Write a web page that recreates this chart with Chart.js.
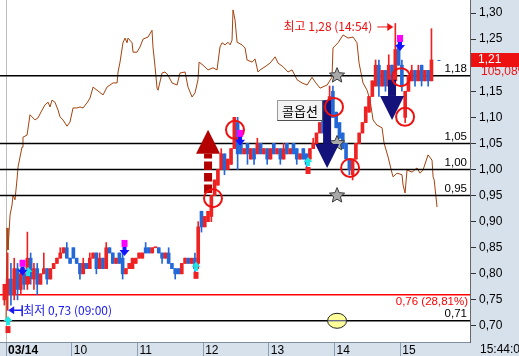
<!DOCTYPE html>
<html>
<head>
<meta charset="utf-8">
<script src="https://cdn.jsdelivr.net/npm/chart.js@4.4.1/dist/chart.umd.min.js"></script>
<style>
  html, body { margin: 0; padding: 0; background: #fff; }
  #wrap { width: 519px; height: 356px; }
</style>
</head>
<body>
<div id="wrap"><canvas id="chart" width="519" height="356"></canvas></div>
<script>
// 3분봉: 첫 봉은 03/13 마지막 봉, 이후 09:00부터
const firstCandleMinute = -3;
const barMinutes = 3;

const openP = [
  0.75,
  0.76,0.79,0.76,0.81,0.77,0.80,0.78,0.83,0.79,0.81,
  0.78,0.80,0.81,0.79,0.81,0.82,0.83,0.84,0.85,0.83,
  0.85,0.83,0.82,0.80,0.82,0.81,0.83,0.84,0.81,0.83,
  0.81,0.85,0.84,0.82,0.84,0.83,0.80,0.81,0.81,0.82,
  0.83,0.83,0.85,0.85,0.84,0.85,0.85,0.84,0.83,0.84,
  0.82,0.81,0.81,0.80,0.82,0.83,0.82,0.83,0.82,0.92,
  0.89,0.90,0.91,0.95,0.97,1.00,1.03,1.00,1.01,1.04,
  1.09,1.05,1.03,1.05,1.02,1.04,1.03,1.05,1.03,1.04,
  1.02,1.05,1.03,1.04,1.02,1.05,1.03,1.05,1.04,1.02,
  1.04,1.03,1.02,1.04,1.05,1.07,1.10,1.07,1.10,1.15,
  1.11,1.09,1.07,1.05,1.02,0.99,1.02,1.05,1.07,1.09,
  1.11,1.14,1.16,1.20,1.16,1.19,1.16,1.20,1.17,1.24,
  1.20,1.10,1.15,1.17,1.19,1.17,1.20,1.17,1.19,1.17
];
const closeP = [
  0.78,
  0.79,0.76,0.81,0.77,0.80,0.78,0.83,0.79,0.81,0.78,
  0.80,0.81,0.79,0.81,0.82,0.83,0.84,0.85,0.83,0.82,
  0.83,0.82,0.80,0.82,0.81,0.83,0.84,0.81,0.83,0.81,
  0.85,0.84,0.82,0.83,0.82,0.80,0.81,0.82,0.83,0.83,
  0.84,0.84,0.84,0.84,0.85,0.85,0.84,0.83,0.84,0.82,
  0.81,0.80,0.80,0.82,0.83,0.82,0.83,0.81,0.89,0.89,
  0.91,0.92,0.95,0.98,1.00,1.03,1.00,1.02,1.04,1.10,
  1.03,1.03,1.04,1.03,1.04,1.02,1.05,1.03,1.04,1.02,
  1.04,1.03,1.04,1.02,1.04,1.03,1.04,1.03,1.02,1.03,
  1.02,1.01,1.04,1.05,1.07,1.09,1.07,1.11,1.14,1.10,
  1.08,1.06,1.04,1.02,1.00,1.02,1.05,1.07,1.09,1.12,
  1.14,1.17,1.20,1.16,1.19,1.16,1.20,1.17,1.23,1.20,
  1.16,1.15,1.18,1.19,1.17,1.19,1.17,1.19,1.17,1.21
];
// null = 꼬리 없음
const highP = [
  null,
  0.84,0.82,0.83,0.82,0.81,0.81,0.88,0.84,0.82,0.82,
  null,0.84,null,null,null,null,0.85,null,0.86,null,
  null,null,null,0.83,null,0.84,null,null,0.84,null,
  0.86,null,null,null,0.84,0.84,null,null,null,null,
  null,null,0.86,null,null,null,null,null,null,0.85,
  null,null,null,null,null,null,null,0.84,0.90,0.92,
  null,null,null,null,1.00,1.04,null,null,null,1.10,
  1.10,1.06,null,null,null,null,1.06,null,null,null,
  null,null,null,null,1.05,null,null,null,null,null,
  null,null,null,1.06,null,null,1.11,null,1.16,1.16,
  null,null,null,null,null,null,null,null,null,null,
  null,null,1.21,1.21,null,null,1.22,null,1.28,1.25,
  1.21,null,null,1.20,null,1.20,null,null,null,1.27
];
const lowP = [
  0.74,
  0.73,0.74,0.75,0.75,0.76,0.77,0.77,0.78,0.77,0.76,
  null,null,0.78,null,null,null,null,null,null,null,
  null,null,0.79,null,null,null,null,0.80,null,null,
  null,null,null,null,null,0.79,null,null,null,null,
  null,null,null,null,null,null,null,0.82,null,null,
  null,0.79,null,null,null,null,null,0.80,0.81,0.88,
  null,null,0.90,null,null,null,0.99,null,null,null,
  1.00,null,null,1.01,null,1.01,null,null,null,1.01,
  null,null,null,1.01,null,null,null,null,1.01,null,
  null,1.00,null,null,null,null,null,null,null,null,
  null,null,null,null,0.99,0.98,null,null,null,null,
  null,null,null,1.14,null,1.15,null,null,null,null,
  1.15,1.09,null,null,1.16,null,1.16,null,1.16,null
];

// 비교 지표선 (갈색)
const brownMin = [
  0,0.9,1.8,3.7,5.5,6.4,8.2,10,11,14.6,
  15.5,19.2,21.9,23.7,26.5,29.2,32.9,35.6,38.4,40.2,
  42,44.7,47.5,49.3,52,55.7,58.4,61.2,64.8,67.6,
  70.3,74,76.7,79.5,83.1,88.6,92.2,97.7,101.4,102.3,
  104.1,106.8,108.7,110.5,111.4,115.1,116,119.6,122.4,125.1,
  129.7,133.3,134.2,136.1,137.9,138.8,142.5,145.2,147.9,151.6,
  156.2,158.9,163.5,166.2,169.9,172.6,175.3,176.3,179.9,184.5,
  189,192.7,195.4,197.3,200,202.7,204.6,206.4,207.3,209.1,
  211,215.5,218.3,220.1,224.7,227.4,230.1,232,236.5,241.1,
  245.7,248.4,253,257.5,261.2,265.8,270.3,274.9,279.5,282.2,
  286.8,293.2,297.7,298.6,303.2,307.8,312.3,316.9,320.5,322.4,
  326,329.7,332.4,335.2,338.8,343.4,345.2,348.9,352.5,353.4,
  357.1,361.6,362.6,364.4,366.2,370.8,375.3,378.1,380.8,385.4,
  389,390,391,393.6
];
const brownVal = [
  0.71,0.888,0.846,0.913,0.932,0.951,0.942,0.980,1.005,1.043,
  1.062,1.066,1.105,1.101,1.095,1.099,1.114,1.124,1.129,1.120,
  1.133,1.129,1.114,1.101,1.095,1.083,1.091,1.118,1.118,1.120,
  1.118,1.128,1.137,1.158,1.152,1.143,1.158,1.166,1.166,1.187,
  1.206,1.243,1.252,1.243,1.252,1.243,1.225,1.225,1.235,1.250,
  1.254,1.267,1.235,1.197,1.156,1.152,1.185,1.187,1.181,1.166,
  1.162,1.185,1.187,1.158,1.139,1.147,1.172,1.206,1.200,1.191,
  1.195,1.191,1.235,1.243,1.239,1.244,1.239,1.248,1.306,1.287,
  1.244,1.239,1.233,1.210,1.206,1.212,1.187,1.191,1.197,1.204,
  1.216,1.204,1.197,1.187,1.191,1.172,1.166,1.162,1.177,1.168,
  1.156,1.162,1.177,1.233,1.243,1.258,1.252,1.254,1.243,1.204,
  1.166,1.152,1.133,1.095,1.085,1.080,1.051,1.024,0.993,0.986,
  0.993,0.990,0.970,0.955,0.999,0.995,1.003,0.993,0.999,1.028,
  1.018,0.986,0.980,0.928
];

const levelValues = [1.18, 1.05, 1.00, 0.95, 0.71];
const refLine = 0.76;
const refLineText = '0,76 (28,81%)';

const yTickValues = [0.70, 0.75, 0.80, 0.85, 0.90, 0.95, 1.00, 1.05, 1.10, 1.15, 1.20, 1.25, 1.30];
const xTickMinutes = [0, 60, 120, 180, 240, 300, 360];
const xTickLabels = ['03/14', '10', '11', '12', '13', '14', '15'];
const xMin = -5.5, xMax = 423.7;
const yMin = 0.6693, yMax = 1.325;

// 신호 표시 [분, 가격]
const circleMarks = [[189, 0.945], [209.1, 1.076], [299.5, 1.120], [314.2, 1.003], [360.7, 1.177], [364.4, 1.101]];
const starMinute = 302.3;
const starLevels = [1.18, 1.05, 0.95];
const ellipseMark = [302.3, 0.71];
const bigArrowMinute = [184.5, 293.2, 352.5];
const bigArrowTail = [0.955, 1.133, 1.172];
const bigArrowTip = [1.076, 1.003, 1.095];
const buyMarks = [[1.8, 0.719], [20.1, 0.813], [173.5, 0.823], [275.8, 1.024]];
const sellMarks = [[15.1, 0.827], [108.2, 0.865], [213.7, 1.076], [359.8, 1.258]];
const callLabel = { minute: 289.5, price: 1.113, text: '콜옵션' };
const lastPctText = '105,08%';
const clockText = '15:44:00';

const upColor = '#ee2222';
const downColor = '#2468d8';
const panelColor = '#d7e1ec';
const FONT = "'Noto Sans CJK KR', 'Liberation Sans', sans-serif";

function fmt(v) { return v.toFixed(2).replace('.', ','); }
function minuteOf(k) { return firstCandleMinute + barMinutes * k + barMinutes / 2; }
function clock(min) {
  const t = 9 * 60 + min;
  return String(Math.floor(t / 60)).padStart(2, '0') + ':' + String(t % 60).padStart(2, '0');
}

const bodyData = openP.map((o, k) => ({ x: minuteOf(k), y: [Math.min(o, closeP[k]), Math.max(o, closeP[k])] }));
const wickData = openP.map((o, k) => ({
  x: minuteOf(k),
  y: [lowP[k] ?? Math.min(o, closeP[k]), highP[k] ?? Math.max(o, closeP[k])]
}));
const barColors = openP.map((o, k) => closeP[k] >= o ? upColor : downColor);

function star(ctx, x, y, R, r) {
  ctx.beginPath();
  for (let k = 0; k < 10; k++) {
    const a = -Math.PI / 2 + k * Math.PI / 5;
    const rad = k % 2 ? r : R;
    ctx.lineTo(x + rad * Math.cos(a), y + rad * Math.sin(a));
  }
  ctx.closePath();
}

function bigArrow(ctx, x, yTail, yTip, color, dashed) {
  const dir = yTip < yTail ? -1 : 1;
  const headH = 24, headW = 24, stemW = 8;
  const base = yTip - dir * headH;
  ctx.fillStyle = color;
  ctx.strokeStyle = color;
  if (dashed) {
    ctx.save();
    ctx.lineWidth = stemW;
    ctx.setLineDash([8.5, 3]);
    ctx.beginPath();
    ctx.moveTo(x, yTail);
    ctx.lineTo(x, base);
    ctx.stroke();
    ctx.restore();
  } else {
    ctx.fillRect(x - stemW / 2, Math.min(yTail, base), stemW, Math.abs(base - yTail));
  }
  ctx.beginPath();
  ctx.moveTo(x - headW / 2, base);
  ctx.lineTo(x + headW / 2, base);
  ctx.lineTo(x, yTip);
  ctx.closePath();
  ctx.fill();
}

const overlayPlugin = {
  id: 'overlay',
  beforeDraw(chart) {
    const { ctx, chartArea: a, width, height } = chart;
    ctx.save();
    ctx.fillStyle = '#fff';
    ctx.fillRect(0, 0, width, height);
    ctx.fillStyle = panelColor;
    ctx.fillRect(a.right, 0, width - a.right, height);
    ctx.fillRect(0, a.bottom, width, height - a.bottom);
    ctx.restore();
  },
  beforeDatasetsDraw(chart) {
    const { ctx, chartArea: a, scales: { x } } = chart;
    const px = Math.round(x.getPixelForValue(0)) + 0.5;
    ctx.save();
    ctx.strokeStyle = '#bdbdbd';
    ctx.lineWidth = 1;
    ctx.beginPath();
    ctx.moveTo(px, a.top);
    ctx.lineTo(px, a.bottom);
    ctx.stroke();
    ctx.restore();
  },
  afterDatasetsDraw(chart) {
    const { ctx, chartArea: a, scales: { x, y } } = chart;
    ctx.save();

    // 레벨 라벨
    ctx.font = "11.5px 'Liberation Sans', sans-serif";
    ctx.textAlign = 'right';
    ctx.textBaseline = 'bottom';
    ctx.fillStyle = '#000';
    levelValues.forEach(v => ctx.fillText(fmt(v), a.right - 3, y.getPixelForValue(v) - 1));
    ctx.fillStyle = '#ff0000';
    ctx.textBaseline = 'top';
    ctx.fillText(refLineText, a.right - 2, y.getPixelForValue(refLine) + 1);

    // 별
    starLevels.forEach(v => {
      star(ctx, x.getPixelForValue(starMinute), y.getPixelForValue(v), 8, 3.6);
      ctx.fillStyle = '#a9a9a9';
      ctx.fill();
      ctx.strokeStyle = '#3a3a3a';
      ctx.lineWidth = 1;
      ctx.stroke();
    });

    // 노란 타원
    const ex = x.getPixelForValue(ellipseMark[0]), ey = y.getPixelForValue(ellipseMark[1]);
    ctx.beginPath();
    ctx.ellipse(ex, ey, 9.5, 7.5, 0, 0, Math.PI * 2);
    ctx.fillStyle = '#ffff99';
    ctx.fill();
    ctx.strokeStyle = '#222';
    ctx.stroke();
    ctx.strokeStyle = '#333388';
    ctx.beginPath();
    ctx.moveTo(ex - 9, ey);
    ctx.lineTo(ex + 9, ey);
    ctx.stroke();

    // 큰 화살표
    bigArrowMinute.forEach((m, k) => {
      const up = bigArrowTip[k] > bigArrowTail[k];
      bigArrow(ctx, x.getPixelForValue(m), y.getPixelForValue(bigArrowTail[k]), y.getPixelForValue(bigArrowTip[k]),
        up ? '#b30000' : '#12127a', up);
    });

    // 빨간 원
    ctx.strokeStyle = '#ee1111';
    ctx.lineWidth = 2;
    circleMarks.forEach(([m, v]) => {
      ctx.beginPath();
      ctx.arc(x.getPixelForValue(m), y.getPixelForValue(v), 9, 0, Math.PI * 2);
      ctx.stroke();
    });

    // 매수 신호
    buyMarks.forEach(([m, v]) => {
      const px = x.getPixelForValue(m), py = y.getPixelForValue(v);
      ctx.fillStyle = '#22e6e6';
      ctx.beginPath();
      ctx.moveTo(px, py);
      ctx.lineTo(px + 4.5, py + 5);
      ctx.lineTo(px - 4.5, py + 5);
      ctx.closePath();
      ctx.fill();
      ctx.fillRect(px - 2, py + 5, 4, 4);
      ctx.fillStyle = '#ee2222';
      ctx.fillRect(px - 2.5, py + 10, 5, 7);
    });

    // 매도 신호
    sellMarks.forEach(([m, v]) => {
      const px = x.getPixelForValue(m), py = y.getPixelForValue(v);
      ctx.fillStyle = '#ff00ff';
      ctx.fillRect(px - 3, py, 6, 7);
      ctx.fillStyle = '#1414ff';
      ctx.fillRect(px - 2, py + 7, 4, 4);
      ctx.beginPath();
      ctx.moveTo(px - 5, py + 10);
      ctx.lineTo(px + 5, py + 10);
      ctx.lineTo(px, py + 16);
      ctx.closePath();
      ctx.fill();
    });

    // 콜옵션 박스
    ctx.font = '13px ' + FONT;
    const bw = 46, bh = 21;
    const bx = Math.round(x.getPixelForValue(callLabel.minute)) - bw;
    const by = Math.round(y.getPixelForValue(callLabel.price) - bh / 2);
    ctx.fillStyle = '#f3f3f3';
    ctx.fillRect(bx, by, bw, bh);
    ctx.strokeStyle = '#9a9a9a';
    ctx.lineWidth = 1;
    ctx.strokeRect(bx + 0.5, by + 0.5, bw - 1, bh - 1);
    ctx.strokeStyle = '#505050';
    ctx.beginPath();
    ctx.moveTo(bx + 0.5, by + bh - 0.5);
    ctx.lineTo(bx + bw - 0.5, by + bh - 0.5);
    ctx.lineTo(bx + bw - 0.5, by + 0.5);
    ctx.stroke();
    ctx.fillStyle = '#000';
    ctx.textAlign = 'center';
    ctx.textBaseline = 'middle';
    ctx.fillText(callLabel.text, bx + bw / 2, by + bh / 2 + 1);

    // 최고 / 최저
    let hiK = 1, loK = 1;
    for (let k = 1; k < openP.length; k++) {
      const hi = highP[k] ?? Math.max(openP[k], closeP[k]);
      const lo = lowP[k] ?? Math.min(openP[k], closeP[k]);
      if (hi > (highP[hiK] ?? Math.max(openP[hiK], closeP[hiK]))) hiK = k;
      if (lo < (lowP[loK] ?? Math.min(openP[loK], closeP[loK]))) loK = k;
    }
    const hiV = highP[hiK] ?? Math.max(openP[hiK], closeP[hiK]);
    const loV = lowP[loK] ?? Math.min(openP[loK], closeP[loK]);

    ctx.font = '12px ' + FONT;
    ctx.textBaseline = 'middle';
    const hx = x.getPixelForValue(minuteOf(hiK)) - 2;
    const hy = y.getPixelForValue(hiV) + 3;
    ctx.strokeStyle = '#ee1111';
    ctx.fillStyle = '#ee1111';
    ctx.lineWidth = 1;
    ctx.beginPath();
    ctx.moveTo(hx - 16, hy + 0.5);
    ctx.lineTo(hx - 5, hy + 0.5);
    ctx.stroke();
    ctx.beginPath();
    ctx.moveTo(hx - 6, hy - 3.5);
    ctx.lineTo(hx, hy + 0.5);
    ctx.lineTo(hx - 6, hy + 4.5);
    ctx.closePath();
    ctx.fill();
    ctx.textAlign = 'right';
    ctx.fillText('최고 ' + fmt(hiV) + ' (' + clock(firstCandleMinute + barMinutes * hiK) + ')', hx - 21, hy);

    const lx = x.getPixelForValue(minuteOf(loK)) + 0.5;
    const ly = y.getPixelForValue(loV);
    ctx.strokeStyle = '#1a1aee';
    ctx.fillStyle = '#1a1aee';
    ctx.beginPath();
    ctx.moveTo(lx, ly);
    ctx.lineTo(lx + 6, ly - 4);
    ctx.lineTo(lx + 6, ly + 4);
    ctx.closePath();
    ctx.fill();
    ctx.lineWidth = 1.5;
    ctx.beginPath();
    ctx.moveTo(lx + 6, ly);
    ctx.lineTo(lx + 14, ly);
    ctx.moveTo(lx + 14, ly - 5);
    ctx.lineTo(lx + 14, ly + 6);
    ctx.stroke();
    ctx.textAlign = 'left';
    ctx.fillText('최저 ' + fmt(loV) + ' (' + clock(firstCandleMinute + barMinutes * loK) + ')', lx + 15, ly);

    // 현재가 표시
    const last = closeP.length - 1;
    const cx = x.getPixelForValue(minuteOf(last));
    const cy = Math.round(y.getPixelForValue(closeP[last])) + 0.5;
    ctx.strokeStyle = downColor;
    ctx.lineWidth = 1;
    ctx.beginPath();
    ctx.moveTo(cx + 6, cy);
    ctx.lineTo(cx + 9, cy);
    ctx.stroke();
    ctx.restore();
  },
  afterDraw(chart) {
    const { ctx, chartArea: a, scales: { y }, width, height } = chart;
    const last = closeP.length - 1;
    const py = Math.round(y.getPixelForValue(closeP[last]));
    ctx.save();
    ctx.fillStyle = panelColor;
    ctx.fillRect(a.right + 8, py + 7, width - a.right - 8, 11);
    ctx.fillStyle = '#ee1111';
    ctx.fillRect(a.right + 1, py - 7, width - a.right - 1, 14);
    ctx.font = "12px 'Liberation Sans', sans-serif";
    ctx.textBaseline = 'middle';
    ctx.textAlign = 'left';
    ctx.fillStyle = '#fff';
    ctx.fillText(fmt(closeP[last]), a.right + 8, py);
    ctx.fillStyle = '#ee1111';
    ctx.fillText(lastPctText, a.right + 11, py + 12);
    ctx.fillStyle = '#000';
    ctx.fillText(clockText, a.right + 10, a.bottom + (height - a.bottom) / 2 + 0.5);
    ctx.restore();
  }
};

function flatLine(v, color) {
  return {
    type: 'line',
    data: [{ x: xMin, y: v }, { x: xMax, y: v }],
    borderColor: color,
    borderWidth: 1.5,
    pointRadius: 0,
    order: 3
  };
}

function build() {
  new Chart(document.getElementById('chart'), {
    type: 'bar',
    data: {
      datasets: [
        { type: 'bar', data: bodyData, backgroundColor: barColors, barThickness: 3, minBarLength: 1, grouped: false, order: 0 },
        { type: 'bar', data: wickData, backgroundColor: barColors, barThickness: 1, grouped: false, order: 1 },
        ...levelValues.map(v => flatLine(v, '#000')),
        flatLine(refLine, '#ff0000'),
        {
          type: 'line',
          data: brownMin.map((m, k) => ({ x: m, y: brownVal[k] })),
          borderColor: '#a5420e',
          borderWidth: 1,
          pointRadius: 0,
          tension: 0,
          order: 4
        }
      ]
    },
    options: {
      responsive: false,
      animation: false,
      events: [],
      layout: { padding: 0 },
      plugins: { legend: { display: false }, tooltip: { enabled: false }, title: { display: false } },
      scales: {
        x: {
          type: 'linear',
          position: 'bottom',
          min: xMin,
          max: xMax,
          offset: false,
          afterBuildTicks: s => { s.ticks = xTickMinutes.map(v => ({ value: v })); },
          afterFit: s => { s.height = 14; s.paddingLeft = 0; s.paddingRight = 0; },
          grid: { drawOnChartArea: false, drawTicks: true, tickLength: 14, color: '#8c9db0', offset: false },
          border: { display: true, color: '#7f8fa0' },
          ticks: {
            autoSkip: false,
            maxRotation: 0,
            align: 'start',
            labelOffset: 2,
            padding: -13,
            color: '#000',
            font: c => ({ size: 12, family: 'Liberation Sans', weight: c.index === 0 ? 'bold' : 'normal' }),
            callback: (v, i) => xTickLabels[i]
          }
        },
        y: {
          type: 'linear',
          position: 'right',
          min: yMin,
          max: yMax,
          afterBuildTicks: s => { s.ticks = yTickValues.map(v => ({ value: v })); },
          afterFit: s => { s.width = 49; s.paddingTop = 0; s.paddingBottom = 0; },
          grid: { drawOnChartArea: false, drawTicks: true, tickLength: 6, color: '#333' },
          border: { display: true, color: '#666' },
          ticks: {
            padding: 3,
            color: '#000',
            font: { size: 12, family: 'Liberation Sans' },
            callback: v => fmt(v)
          }
        }
      }
    },
    plugins: [overlayPlugin]
  });
}

const fontLoads = [
  document.fonts.load("12px 'Noto Sans CJK KR'", '최고저콜옵션'),
  document.fonts.load("12px 'Liberation Sans'", '0123')
];
Promise.all(fontLoads).then(build, build);
</script>
</body>
</html>
